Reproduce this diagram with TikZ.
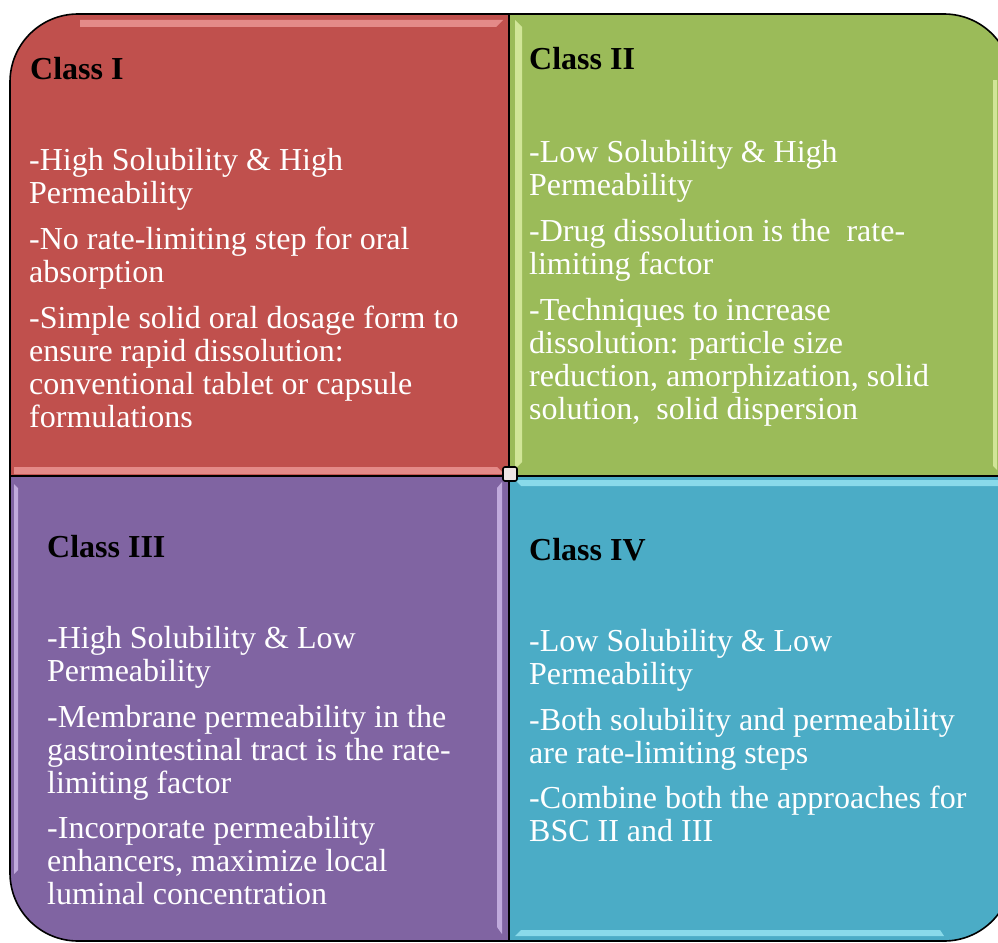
\documentclass[tikz,border=0pt]{standalone}
\usepackage{fontspec}
\setmainfont{Liberation Serif}

\definecolor{qred}{HTML}{C0504D}
\definecolor{qgreen}{HTML}{9BBB59}
\definecolor{qpurple}{HTML}{8064A2}
\definecolor{qblue}{HTML}{4BACC6}
\definecolor{hlred}{HTML}{F4A4A2}
\definecolor{hlgreen}{HTML}{E8F7B4}
\definecolor{hlpurple}{HTML}{DCC8F6}
\definecolor{hlblue}{HTML}{A4EEFA}
\definecolor{hubfill}{HTML}{EEE4E4}

% stacked lines; the box baseline is the first line's baseline
\newcommand\stackedlines[1]{\vtop{\baselineskip=33.3pt\lineskiplimit=-100pt\lineskip=0pt
  \halign{##\hfil\cr#1\crcr}}}

\tikzset{
  quad/.style={draw=black, line width=1.6pt, line join=round},
  classtitle/.style={anchor=base west, inner sep=0pt, text=black,
    font=\fontsize{32}{33}\selectfont\bfseries},
  body/.style={anchor=base west, inner sep=0pt, text=white,
    font=\fontsize{32}{33}\selectfont},
  bevel/.style={opacity=0.7}
}

\begin{document}
\begin{tikzpicture}[x=1pt, y=-1pt]
\useasboundingbox (0,0) rectangle (998,942);

% quadrants: L=10, T=14, R=1012, B=941, split at X=509, Y=476, corner radius 68
\fill[qred]    (509,476) -- (10,476) -- (10,82) .. controls (10,44.4) and (40.4,14) .. (78,14) -- (509,14) -- cycle;
\fill[qgreen]  (509,14) -- (944,14) .. controls (981.6,14) and (1012,44.4) .. (1012,82) -- (1012,476) -- (509,476) -- cycle;
\fill[qpurple] (509,476) -- (10,476) -- (10,873) .. controls (10,910.6) and (40.4,941) .. (78,941) -- (509,941) -- cycle;
\fill[qblue]   (509,476) -- (1012,476) -- (1012,873) .. controls (1012,910.6) and (981.6,941) .. (944,941) -- (509,941) -- cycle;

% bevel highlights
\fill[hlred, bevel] (80,20) -- (503,20) -- (496,27) -- (80,27) -- cycle;
\fill[hlred, bevel] (14,467) -- (497,467) -- (504,474) -- (14,474) -- cycle;
\fill[hlgreen, bevel] (515,20) -- (522,27) -- (522,462) -- (515,469) -- cycle;
\fill[hlgreen, bevel] (993,80) -- (997,80) -- (997,470) -- (993,466) -- cycle;
\fill[hlpurple, bevel] (502,482) -- (497,488) -- (497,927) -- (502,934) -- cycle;
\fill[hlpurple, bevel] (14,484) -- (18,488) -- (18,870) -- (14,874) -- cycle;
\fill[hlblue, bevel] (515,480) -- (998,480) -- (998,486) -- (521,486) -- cycle;
\fill[hlblue, bevel] (521,930) -- (940,930) -- (944,936) -- (515,936) -- cycle;

% outlines
\draw[quad] (509,476) -- (10,476) -- (10,82) .. controls (10,44.4) and (40.4,14) .. (78,14) -- (509,14) -- cycle;
\draw[quad] (509,14) -- (944,14) .. controls (981.6,14) and (1012,44.4) .. (1012,82) -- (1012,476) -- (509,476) -- cycle;
\draw[quad] (509,476) -- (10,476) -- (10,873) .. controls (10,910.6) and (40.4,941) .. (78,941) -- (509,941) -- cycle;
\draw[quad] (509,476) -- (1012,476) -- (1012,873) .. controls (1012,910.6) and (981.6,941) .. (944,941) -- (509,941) -- cycle;

% centre hub
\draw[fill=hubfill, line width=1.6pt, rounded corners=2pt] (503,467) rectangle (517,481);

% Class I
\node[classtitle] (t1) at (30,79) {Class I};
\node[body] (p11) at (29,170) {\stackedlines{-High Solubility \& High\cr Permeability}};
\node[body] (p12) at (29,249) {\stackedlines{-No rate-limiting step for oral\cr absorption}};
\node[body] (p13) at (29,328) {\stackedlines{-Simple solid oral dosage form to\cr ensure rapid dissolution:\cr conventional tablet or capsule\cr formulations}};

% Class II
\node[classtitle] (t2) at (529,70) {Class II};
\node[body] (p21) at (529,162) {\stackedlines{-Low Solubility \& High\cr Permeability}};
\node[body] (p22) at (529,241) {\stackedlines{-Drug dissolution is the\ \ rate-\cr limiting factor}};
\node[body] (p23) at (529,320) {\stackedlines{-Techniques to increase\cr dissolution: particle size\cr reduction, amorphization, solid\cr solution,\ \ solid dispersion}};

% Class III
\node[classtitle] (t3) at (47,557) {Class III};
\node[body] (p31) at (47,648) {\stackedlines{-High Solubility \& Low\cr Permeability}};
\node[body] (p32) at (47,727) {\stackedlines{-Membrane permeability in the\cr gastrointestinal tract is the rate-\cr limiting factor}};
\node[body] (p33) at (47,838) {\stackedlines{-Incorporate permeability\cr enhancers, maximize local\cr luminal concentration}};

% Class IV
\node[classtitle] (t4) at (529,560) {Class IV};
\node[body] (p41) at (529,651) {\stackedlines{-Low Solubility \& Low\cr Permeability}};
\node[body] (p42) at (529,730) {\stackedlines{-Both solubility and permeability\cr are rate-limiting steps}};
\node[body] (p43) at (529,808) {\stackedlines{-Combine both the approaches for\cr BSC II and III}};
\end{tikzpicture}
\end{document}
